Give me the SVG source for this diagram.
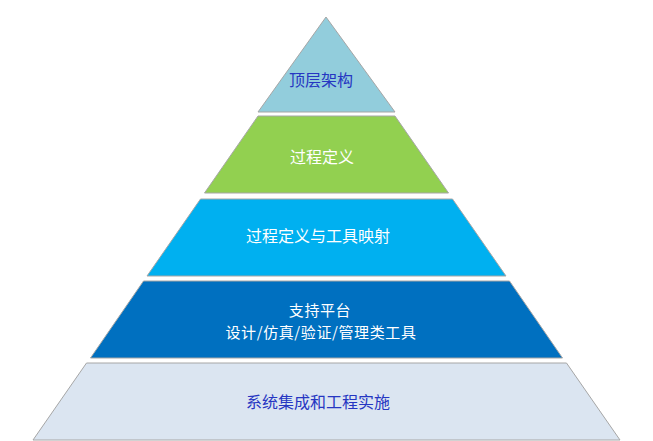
<svg xmlns="http://www.w3.org/2000/svg" width="653" height="441" viewBox="0 0 653 441">
<style>
.layer{stroke:#a6a6a6;stroke-width:1}
.t{font-family:"Noto Sans CJK SC","Noto Sans",sans-serif;font-size:16px;text-anchor:middle}
.s{font-size:15px;letter-spacing:0.6px}
.w{fill:#ffffff}
.b{fill:#2636c2}
</style>
<rect width="653" height="441" fill="#ffffff"/>
<g id="layer-top">
<polygon class="layer" points="326,17 258,112 395,112" fill="#92cddc"/>
<text class="t b" x="321" y="86">顶层架构</text>
</g>
<g id="layer-process">
<polygon class="layer" points="258,116 395,116 448.5,193 204.5,193" fill="#92d050"/>
<text class="t w" x="322" y="163">过程定义</text>
</g>
<g id="layer-mapping">
<polygon class="layer" points="200.5,199 452.5,199 506,276 147,276" fill="#00b0f0"/>
<text class="t w" x="318" y="242">过程定义与工具映射</text>
</g>
<g id="layer-platform">
<polygon class="layer" points="143.5,281 509.5,281 562.5,358 90.5,358" fill="#0070c0"/>
<text class="t w s" x="320" y="316">支持平台</text>
<text class="t w s" x="321" y="338">设计/仿真/验证/管理类工具</text>
</g>
<g id="layer-base">
<polygon class="layer" points="86.5,363 566.5,363 620,440 33,440" fill="#dbe5f1"/>
<text class="t b" x="318" y="408">系统集成和工程实施</text>
</g>
<g id="connectors"></g>
</svg>
